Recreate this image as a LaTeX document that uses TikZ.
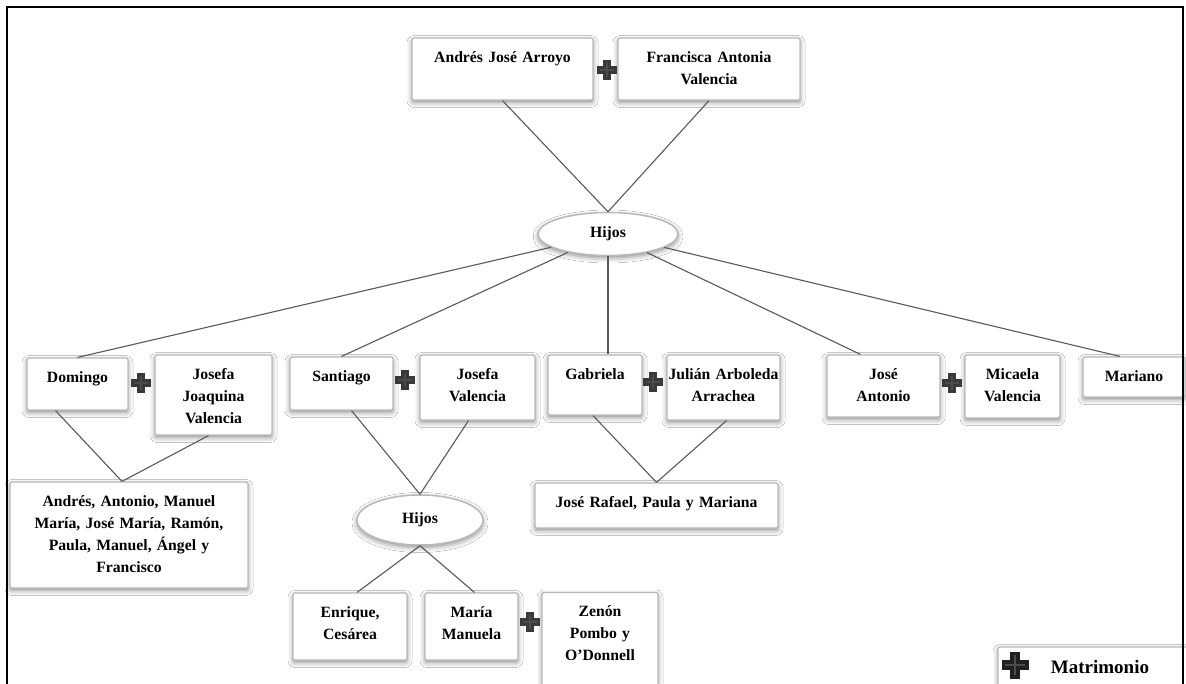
\documentclass[tikz,border=0pt]{standalone}
\usepackage{fontspec}
\setmainfont{Liberation Serif}
\usetikzlibrary{shapes.geometric,shadows.blur,calc}
\newcommand\tbox[6]{%
  \node[pbox, minimum width=#4pt, minimum height=#5pt] (#1) at (#2,#3) {};
  \node[ptext, text width=#4pt, anchor=north] (#1-t) at ([yshift=-9pt]#1.north) {\strut #6};}
\newcommand\mplus[4]{%
  \begin{scope}[shift={(#1,#2)}]
    \fill[#4] (-#3/2,-#3*0.18) rectangle (#3/2,#3*0.18);
    \fill[#4] (-#3*0.18,-#3/2) rectangle (#3*0.18,#3/2);
    \fill[gray!60!black] (-#3*0.36,-#3*0.05) rectangle (#3*0.36,#3*0.05);
    \fill[gray!60!black] (-#3*0.05,-#3*0.36) rectangle (#3*0.05,#3*0.36);
  \end{scope}}
\begin{document}
\begin{tikzpicture}[x=1pt,y=-1pt,
  pbox/.style={draw=gray!55, line width=1.2pt, fill=white, rounded corners=2pt, inner sep=0pt,
    blur shadow={shadow xshift=0pt, shadow yshift=-2.5pt, shadow blur radius=5pt, shadow opacity=45}},
  ptext/.style={inner sep=0pt, align=center, font=\fontsize{15.7}{22}\selectfont\bfseries},
  hij/.style={ellipse, draw=gray!55, line width=1.5pt, fill=white, inner sep=0pt,
    font=\fontsize{15.7}{22}\selectfont\bfseries,
    blur shadow={shadow xshift=0pt, shadow yshift=-2.5pt, shadow blur radius=5pt, shadow opacity=45}},
  conn/.style={draw=gray!70!black, line width=1.1pt}
  ]
\useasboundingbox (0,0) rectangle (1186,683);
\clip (0,0) rectangle (1186,683);
\fill[white] (0,0) rectangle (1186,683);

% top couple
\tbox{andres}{502.5}{69}{181}{62}{Andrés José Arroyo}
\tbox{francisca}{709}{69}{182}{62}{Francisca Antonia\\Valencia}
\mplus{607}{70}{20}{gray!45!black}
\node[hij, minimum width=140pt, minimum height=43pt] (hijos1) at (608,234) {Hijos};

% children row
\tbox{domingo}{77.5}{384}{101}{52}{Domingo}
\tbox{josefaJ}{213.5}{395}{117}{80}{Josefa\\Joaquina\\Valencia}
\mplus{141}{383}{20}{gray!45!black}
\tbox{santiago}{341.5}{383.5}{103}{53}{Santiago}
\tbox{josefaV}{477.5}{387.5}{115}{65}{Josefa\\Valencia}
\mplus{405}{380}{20}{gray!45!black}
\tbox{gabriela}{595}{385}{94}{60}{Gabriela}
\tbox{julian}{723.5}{387.5}{113}{65}{Julián Arboleda\\Arrachea}
\mplus{653}{382}{20}{gray!45!black}
\tbox{joseA}{883.5}{386}{113}{62}{José\\Antonio}
\tbox{micaela}{1012.5}{386.5}{95}{63}{Micaela\\Valencia}
\mplus{952}{383}{20}{gray!45!black}
\tbox{mariano}{1134}{377}{102}{40}{Mariano}

% grandchildren
\tbox{andresList}{129}{535}{238}{106}{Andrés, Antonio, Manuel\\María, José María, Ramón,\\Paula, Manuel, Ángel y\\Francisco}
\node[hij, minimum width=126pt, minimum height=50pt] (hijos2) at (420,520) {Hijos};
\tbox{joseRafael}{656.5}{505.5}{243}{45}{José Rafael, Paula y Mariana}
\tbox{enrique}{350}{626.5}{114}{67}{Enrique,\\Cesárea}
\tbox{maria}{471.5}{626.5}{93}{67}{María\\Manuela}
\tbox{zenon}{600}{641}{116}{97}{Zenón\\Pombo y\\O’Donnell}
\mplus{530}{622}{20}{gray!45!black}

% connectors
\draw[conn] (andres.south) -- (hijos1.north);
\draw[conn] (francisca.south) -- (hijos1.north);
\draw[conn] (hijos1) -- (domingo.north);
\draw[conn] (hijos1) -- (santiago.north);
\draw[conn] (hijos1.south) -- (hijos1.south |- gabriela.north);
\draw[conn] (hijos1) -- ([xshift=-23pt]joseA.north);
\draw[conn] (hijos1) -- ([xshift=-14pt]mariano.north);
\coordinate (jd) at ([xshift=-7pt]andresList.north);
\draw[conn] ([xshift=-22pt]domingo.south) -- (jd);
\draw[conn] ([xshift=-5pt]josefaJ.south) -- (jd);
\draw[conn] ([xshift=10pt]santiago.south) -- (hijos2.north);
\draw[conn] ([xshift=-9pt]josefaV.south) -- (hijos2.north);
\draw[conn] ([xshift=-2pt]gabriela.south) -- (joseRafael.north);
\draw[conn] ([xshift=3pt]julian.south) -- (joseRafael.north);
\draw[conn] (hijos2.south) -- ([xshift=7pt]enrique.north);
\draw[conn] (hijos2.south) -- ([xshift=3pt]maria.north);

% legend
\node[pbox, minimum width=192pt, minimum height=43pt] (legend) at (1094,668.5) {};
\mplus{1015}{665}{27}{gray!25!black}
\node[inner sep=0pt, font=\fontsize{19}{22}\selectfont\bfseries] (legtext) at (1100,667) {Matrimonio};

% frame
\draw[black, line width=2pt] (7,690) -- (7,7) -- (1183,7) -- (1183,690);
\end{tikzpicture}
\end{document}
